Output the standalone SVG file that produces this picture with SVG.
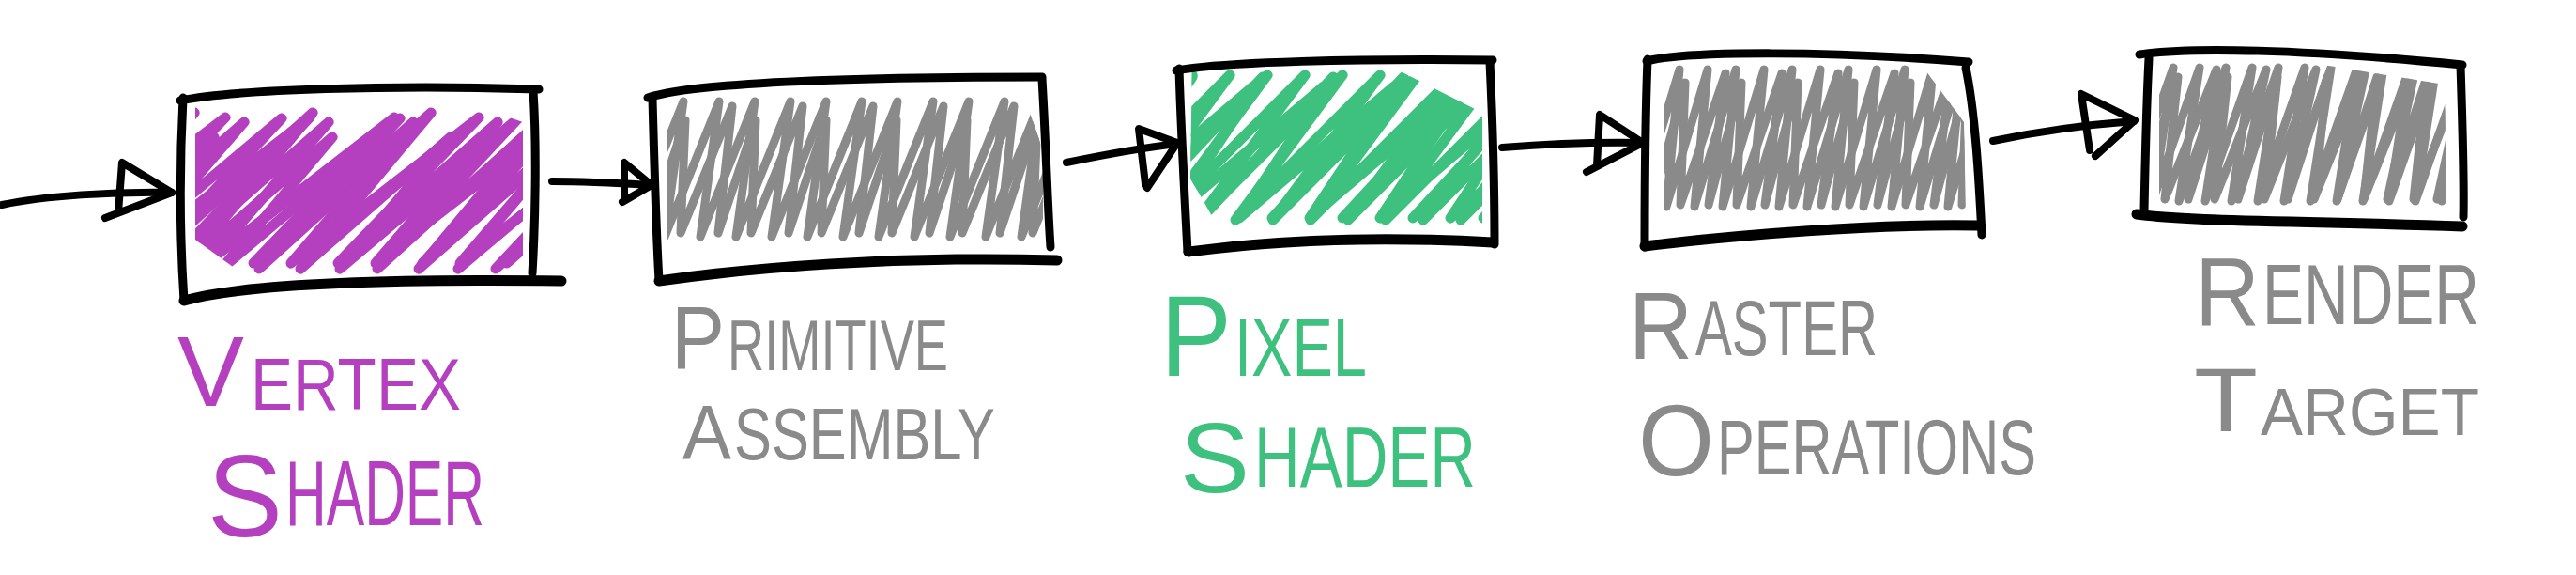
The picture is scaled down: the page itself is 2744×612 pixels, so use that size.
<svg xmlns="http://www.w3.org/2000/svg" width="2744" height="612" viewBox="0 0 2744 612">
<style>
.ol{fill:none;stroke:#000;stroke-width:9;stroke-linecap:round;stroke-linejoin:round}
.ob{stroke-width:11}
.sc{fill:none;stroke-linecap:round;stroke-linejoin:round}
.purple{stroke:#B43FBF;stroke-width:11}
.green{stroke:#3EC17E;stroke-width:11}
.gray{stroke:#8A8A8A;stroke-width:9}
.lbl{font-family:"Liberation Sans",Arial,sans-serif;font-weight:normal}
.tp{fill:#B43FBF}
.tg{fill:#3EC17E}
.tk{fill:#8A8A8A}
.conn path{fill:none;stroke:#000;stroke-width:8;stroke-linecap:round;stroke-linejoin:round}
</style>
<defs>
<clipPath id="c1"><polygon points="208,100 470,100 557,130 557,300 270,300 208,255"/></clipPath>
<clipPath id="c2"><polygon points="711,100 1090,100 1111,160 1111,262 711,262"/></clipPath>
<clipPath id="c3"><polygon points="1270,60 1460,60 1579,120 1579,245 1300,245 1268,190"/></clipPath>
<clipPath id="c4"><polygon points="1772,60 2040,60 2092,130 2094,230 1772,230"/></clipPath>
<clipPath id="c5"><polygon points="2300,60 2420,60 2604,90 2606,225 2300,225"/></clipPath>
</defs>
<rect width="2744" height="612" fill="#fff"/>

<g id="connectors" class="conn">
<path d="M2,218 C50,208 120,204 183,205"/>
<path d="M112,232 L183,205 L130,173 L126,226"/>
<path d="M588,193 C620,193 660,195 693,197"/>
<path d="M663,215 L694,197 L665,173 L665,210"/>
<path d="M1136,173 C1170,166 1210,158 1254,153"/>
<path d="M1222,200 L1254,152 L1213,137 L1220,196"/>
<path d="M1600,157 C1650,153 1700,151 1750,152"/>
<path d="M1690,183 L1750,152 L1704,122 L1701,176"/>
<path d="M2123,150 C2170,140 2220,133 2273,129"/>
<path d="M2232,166 L2274,128 L2217,100 L2226,160"/>
</g>

<g id="vertex-shader">
<g clip-path="url(#c1)">
<path class="sc purple" d="M24,286 l183,-166 l-139,166 l160,-140 l-118,140 l190,-160 l-150,160 l183,-166 l-139,166 l160,-140 l-118,140 l190,-160 l-150,160 l183,-166 l-139,166 l160,-140 l-118,140 l190,-160 l-150,160 l183,-166 l-139,166 l160,-140 l-118,140 l190,-160 l-150,160 l183,-166 l-139,166 l160,-140 l-118,140 l190,-160 l-150,160"/>
<path class="sc purple" d="M40,280 l200,-155 l-150,155 l170,-150 l-130,150 l200,-155 l-150,155 l170,-150 l-130,150 l200,-155 l-150,155 l170,-150 l-130,150 l200,-155 l-150,155 l170,-150 l-130,150 l200,-155 l-150,155 l170,-150 l-130,150 l200,-155 l-150,155 l170,-150 l-130,150"/>
</g>
<path class="ol" d="M192,107 C250,95 420,90 574,95"/>
<path class="ol" d="M568,97 C572,160 570,240 567,291"/>
<path class="ol ob" d="M196,320 C260,302 420,297 598,299"/>
<path class="ol" d="M195,104 C191,180 192,260 196,320"/>
<text class="lbl tp"><tspan x="189" y="432" font-size="105" textLength="71" lengthAdjust="spacingAndGlyphs">V</tspan><tspan x="267" y="436" font-size="77" textLength="224" lengthAdjust="spacingAndGlyphs">ERTEX</tspan></text>
<text class="lbl tp"><tspan x="221" y="571" font-size="124" textLength="80" lengthAdjust="spacingAndGlyphs">S</tspan><tspan x="304" y="559" font-size="98" textLength="212" lengthAdjust="spacingAndGlyphs">HADER</tspan></text>
</g>

<g id="primitive-assembly">
<g clip-path="url(#c2)">
<path class="sc gray" d="M670,252 l58,-144 l-20,144 l58,-144 l-20,144 l58,-144 l-20,144 l58,-144 l-20,144 l58,-144 l-20,144 l58,-144 l-20,144 l58,-144 l-20,144 l58,-144 l-20,144 l58,-144 l-20,144 l58,-144 l-20,144 l58,-144 l-20,144 l58,-144 l-20,144"/>
<path class="sc gray" d="M690,248 l40,-120 l-5,120 l55,-135 l-15,135 l40,-120 l-5,120 l55,-135 l-15,135 l40,-120 l-5,120 l55,-135 l-15,135 l40,-120 l-5,120 l55,-135 l-15,135 l40,-120 l-5,120 l55,-135 l-15,135 l40,-120 l-5,120 l55,-135 l-15,135"/>
</g>
<path class="ol" d="M690,104 C740,88 900,82 1110,82"/>
<path class="ol" d="M1110,84 C1114,150 1116,220 1119,263"/>
<path class="ol ob" d="M702,299 C800,285 950,272 1126,277"/>
<path class="ol" d="M695,105 C697,180 699,250 702,298"/>
<text class="lbl tk"><tspan x="715" y="392" font-size="94" textLength="57" lengthAdjust="spacingAndGlyphs">P</tspan><tspan x="775" y="394" font-size="76" textLength="235" lengthAdjust="spacingAndGlyphs">RIMITIVE</tspan></text>
<text class="lbl tk"><tspan x="727" y="488" font-size="82" textLength="52" lengthAdjust="spacingAndGlyphs">A</tspan><tspan x="782" y="489" font-size="77" textLength="278" lengthAdjust="spacingAndGlyphs">SSEMBLY</tspan></text>
</g>

<g id="pixel-shader">
<g clip-path="url(#c3)">
<path class="sc green" d="M1116,234 l154,-154 l-114,154 l154,-154 l-114,154 l154,-154 l-114,154 l154,-154 l-114,154 l154,-154 l-114,154 l154,-154 l-114,154 l154,-154 l-114,154 l154,-154 l-114,154 l154,-154 l-114,154 l154,-154 l-114,154 l154,-154 l-114,154 l154,-154 l-114,154"/>
<path class="sc green" d="M1130,232 l140,-150 l-100,150 l165,-140 l-130,140 l140,-150 l-100,150 l165,-140 l-130,140 l140,-150 l-100,150 l165,-140 l-130,140 l140,-150 l-100,150 l165,-140 l-130,140 l140,-150 l-100,150 l165,-140 l-130,140 l140,-150 l-100,150 l165,-140 l-130,140"/>
</g>
<path class="ol" d="M1253,75 C1300,66 1450,62 1590,64"/>
<path class="ol" d="M1587,66 C1590,130 1592,200 1592,260"/>
<path class="ol ob" d="M1266,268 C1340,258 1450,250 1590,258"/>
<path class="ol" d="M1256,73 C1258,140 1262,210 1265,268"/>
<text class="lbl tg"><tspan x="1236" y="400" font-size="122" textLength="76" lengthAdjust="spacingAndGlyphs">P</tspan><tspan x="1315" y="400" font-size="87" textLength="141" lengthAdjust="spacingAndGlyphs">IXEL</tspan></text>
<text class="lbl tg"><tspan x="1257" y="524" font-size="106" textLength="74" lengthAdjust="spacingAndGlyphs">S</tspan><tspan x="1336" y="518" font-size="90" textLength="236" lengthAdjust="spacingAndGlyphs">HADER</tspan></text>
</g>

<g id="raster-operations">
<g clip-path="url(#c4)">
<path class="sc gray" d="M1745,220 l44,-146 l-14,146 l44,-146 l-14,146 l44,-146 l-14,146 l44,-146 l-14,146 l44,-146 l-14,146 l44,-146 l-14,146 l44,-146 l-14,146 l44,-146 l-14,146 l44,-146 l-14,146 l44,-146 l-14,146 l44,-146 l-14,146 l44,-146 l-14,146"/>
<path class="sc gray" d="M1760,218 l35,-130 l-5,130 l48,-140 l-18,140 l35,-130 l-5,130 l48,-140 l-18,140 l35,-130 l-5,130 l48,-140 l-18,140 l35,-130 l-5,130 l48,-140 l-18,140 l35,-130 l-5,130 l48,-140 l-18,140 l35,-130 l-5,130 l48,-140 l-18,140"/>
</g>
<path class="ol" d="M1754,65 C1800,54 1950,54 2097,66"/>
<path class="ol" d="M2094,72 C2104,120 2108,190 2111,250"/>
<path class="ol ob" d="M1752,262 C1850,250 2000,238 2106,240"/>
<path class="ol" d="M1755,63 C1752,140 1752,210 1752,263"/>
<text class="lbl tk"><tspan x="1735" y="382" font-size="102" textLength="68" lengthAdjust="spacingAndGlyphs">R</tspan><tspan x="1806" y="378" font-size="84" textLength="194" lengthAdjust="spacingAndGlyphs">ASTER</tspan></text>
<text class="lbl tk"><tspan x="1745" y="506" font-size="108" textLength="81" lengthAdjust="spacingAndGlyphs">O</tspan><tspan x="1829" y="505" font-size="83" textLength="340" lengthAdjust="spacingAndGlyphs">PERATIONS</tspan></text>
</g>

<g id="render-target">
<g clip-path="url(#c5)">
<path class="sc gray" d="M2265,214 l50,-142 l-22,142 l50,-142 l-22,142 l50,-142 l-22,142 l50,-142 l-22,142 l50,-142 l-22,142 l50,-142 l-22,142 l50,-142 l-22,142 l50,-142 l-22,142 l50,-142 l-22,142 l50,-142 l-22,142 l50,-142 l-22,142 l50,-142 l-22,142 l50,-142 l-22,142"/>
<path class="sc gray" d="M2278,212 l42,-130 l-14,130 l55,-138 l-30,138 l42,-130 l-14,130 l55,-138 l-30,138 l42,-130 l-14,130 l55,-138 l-30,138 l42,-130 l-14,130 l55,-138 l-30,138 l42,-130 l-14,130 l55,-138 l-30,138 l42,-130 l-14,130 l55,-138 l-30,138 l42,-130 l-14,130 l55,-138 l-30,138"/>
</g>
<path class="ol" d="M2279,58 C2330,50 2450,52 2623,69"/>
<path class="ol" d="M2621,70 C2623,130 2625,190 2624,231"/>
<path class="ol ob" d="M2276,228 C2330,236 2450,235 2623,241"/>
<path class="ol" d="M2289,62 C2286,120 2285,180 2284,224"/>
<text class="lbl tk"><tspan x="2338" y="347" font-size="104" textLength="69" lengthAdjust="spacingAndGlyphs">R</tspan><tspan x="2410" y="345" font-size="90" textLength="231" lengthAdjust="spacingAndGlyphs">ENDER</tspan></text>
<text class="lbl tk"><tspan x="2337" y="459" font-size="96" textLength="68" lengthAdjust="spacingAndGlyphs">T</tspan><tspan x="2408" y="463" font-size="70" textLength="233" lengthAdjust="spacingAndGlyphs">ARGET</tspan></text>
</g>
</svg>
